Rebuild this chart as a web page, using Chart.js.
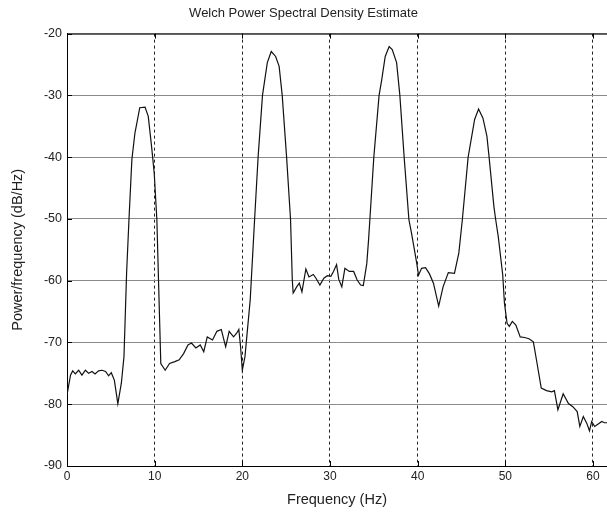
<!DOCTYPE html>
<html>
<head>
<meta charset="utf-8">
<script src="https://cdn.jsdelivr.net/npm/chart.js@4"></script>
<style>
  html, body { margin: 0; padding: 0; background: #fff; }
  #wrap { width: 607px; height: 512px; }
</style>
</head>
<body>
<div id="wrap"><canvas id="psd"></canvas></div>
<script>
// frequency (Hz) and power (dB/Hz)
var freqHz = [0.0, 0.4, 0.65, 0.95, 1.33, 1.7, 2.1, 2.47, 2.85, 3.2, 3.6, 4.0, 4.4, 4.75, 5.05, 5.4, 5.8, 6.2, 6.5, 6.8,
    7.07, 7.4, 7.75, 8.3, 8.9, 9.27, 9.65, 9.95, 10.25, 10.5, 10.7, 11.2, 11.7, 12.3, 12.8, 13.3, 13.8, 14.2, 14.7, 15.2,
    15.6, 16.0, 16.6, 17.1, 17.6, 18.1, 18.5, 19.0, 19.35, 19.6, 19.8, 20.0, 20.3, 20.9, 21.4, 21.8, 22.3, 22.85, 23.3, 23.8,
    24.2, 24.55, 25.05, 25.5, 25.7, 25.8, 26.2, 26.5, 26.8, 27.25, 27.6, 28.1, 28.4, 28.85, 29.3, 29.7, 30.1, 30.4, 30.75, 31.0,
    31.35, 31.7, 32.2, 32.7, 33.1, 33.5, 33.8, 34.2, 34.4, 34.55, 35.0, 35.6, 35.9, 36.3, 36.75, 37.1, 37.6, 37.97, 38.46, 39.0,
    39.3, 39.9, 40.1, 40.45, 40.9, 41.35, 41.8, 42.4, 42.9, 43.5, 44.2, 44.7, 45.1, 45.76, 46.5, 46.95, 47.45, 47.9, 48.15, 48.7,
    48.9, 49.2, 49.7, 49.9, 50.2, 50.45, 50.8, 51.2, 51.7, 52.2, 52.7, 53.2, 53.55, 54.1, 54.7, 55.3, 55.6, 56.0, 56.6, 57.2,
    57.7, 58.2, 58.5, 58.9, 59.3, 59.6, 59.85, 60.2, 60.6, 61.0, 61.3, 61.7];
var psdDb = [-78.5, -75.3, -74.6, -75.1, -74.5, -75.3, -74.5, -75.0, -74.7, -75.1, -74.6, -74.5, -74.7, -75.4, -74.9, -76.1, -79.9, -76.6, -72.3, -58.7,
    -50.1, -40.4, -36.1, -32.0, -31.9, -33.4, -38.3, -42.6, -50.1, -63.1, -73.4, -74.5, -73.4, -73.1, -72.8, -71.8, -70.4, -70.1, -70.9, -70.4,
    -71.5, -69.1, -69.6, -68.2, -67.9, -70.7, -68.2, -69.1, -68.5, -67.9, -70.7, -74.5, -72.3, -63.1, -50.1, -40.0, -30.0, -24.7, -22.9, -23.7,
    -25.3, -30.0, -40.0, -50.1, -59.9, -62.0, -61.0, -60.4, -61.8, -58.1, -59.4, -59.0, -59.6, -60.7, -59.6, -59.2, -59.3, -58.5, -57.4, -59.8,
    -61.0, -58.0, -58.5, -58.5, -59.9, -60.7, -60.8, -57.2, -53.4, -50.1, -40.0, -30.0, -27.5, -23.7, -22.1, -22.6, -24.7, -30.0, -40.0, -50.1,
    -52.3, -57.2, -59.1, -58.0, -57.9, -58.9, -60.4, -64.1, -61.0, -58.7, -58.8, -55.5, -50.1, -40.0, -33.9, -32.2, -33.7, -36.6, -40.0, -48.0,
    -50.1, -52.9, -59.0, -63.6, -66.9, -67.4, -66.6, -67.2, -69.1, -69.2, -69.4, -69.9, -72.8, -77.4, -77.8, -78.0, -77.8, -80.9, -78.3, -79.9,
    -80.4, -81.2, -83.6, -82.0, -83.1, -84.3, -82.8, -83.6, -83.2, -82.8, -83.0, -83.0];

var xMin = 0, xMax = 61.6, xStep = 10;
var yMin = -90, yMax = -20, yStep = 10;

var points = [];
for (var i = 0; i < freqHz.length; i++) {
    points.push({ x: freqHz[i], y: psdDb[i] });
}

var fontFamily = '"Liberation Sans", Arial, sans-serif';

// top frame line and the small inward tick marks, like the original axes box
var framePlugin = {
    id: 'frame',
    afterDraw: function (chart) {
        var ctx = chart.ctx;
        var area = chart.chartArea;
        var xs = chart.scales.x, ys = chart.scales.y;
        ctx.save();
        ctx.strokeStyle = '#000';
        ctx.lineWidth = 1;
        ctx.beginPath();
        ctx.moveTo(area.left, area.top + 0.5);
        ctx.lineTo(area.right, area.top + 0.5);
        xs.ticks.forEach(function (t) {
            var px = Math.round(xs.getPixelForValue(t.value)) + 0.5;
            ctx.moveTo(px, area.bottom);
            ctx.lineTo(px, area.bottom - 5);
            ctx.moveTo(px, area.top);
            ctx.lineTo(px, area.top + 5);
        });
        ys.ticks.forEach(function (t) {
            var py = Math.round(ys.getPixelForValue(t.value)) + 0.5;
            ctx.moveTo(area.left, py);
            ctx.lineTo(area.left + 5, py);
        });
        ctx.stroke();
        ctx.restore();
    }
};

new Chart(document.getElementById('psd'), {
    type: 'line',
    data: {
        datasets: [{
            data: points,
            borderColor: '#111',
            borderWidth: 1.2,
            pointRadius: 0,
            tension: 0,
            fill: false
        }]
    },
    options: {
        responsive: true,
        maintainAspectRatio: false,
        animation: false,
        layout: { padding: 0 },
        plugins: {
            legend: { display: false },
            tooltip: { enabled: false },
            title: {
                display: true,
                text: 'Welch Power Spectral Density Estimate',
                color: '#222',
                font: { family: fontFamily, size: 13, weight: 'normal' },
                padding: { top: 6, bottom: 12 }
            }
        },
        scales: {
            x: {
                type: 'linear',
                min: xMin,
                max: xMax,
                afterFit: function (s) { s.height = 46; },
                ticks: {
                    stepSize: xStep,
                    includeBounds: false,
                    color: '#222',
                    padding: 3,
                    maxRotation: 0,
                    font: { family: fontFamily, size: 12 }
                },
                grid: {
                    color: '#222',
                    lineWidth: 1,
                    drawTicks: false
                },
                border: { display: true, color: '#000', width: 1, dash: [3, 3] },
                title: {
                    display: true,
                    text: 'Frequency (Hz)',
                    color: '#222',
                    font: { family: fontFamily, size: 14.5 },
                    padding: { top: 0, bottom: 3 }
                }
            },
            y: {
                min: yMin,
                max: yMax,
                afterFit: function (s) { s.width = 67; },
                ticks: {
                    stepSize: yStep,
                    color: '#222',
                    padding: 5,
                    font: { family: fontFamily, size: 12.5 }
                },
                grid: {
                    color: '#8a8a8a',
                    lineWidth: 1,
                    drawTicks: false
                },
                border: { display: true, color: '#000', width: 1 },
                title: {
                    display: true,
                    text: 'Power/frequency (dB/Hz)',
                    color: '#222',
                    font: { family: fontFamily, size: 14.5 },
                    padding: { top: 9, bottom: 0 }
                }
            }
        }
    },
    plugins: [framePlugin]
});
</script>
</body>
</html>
